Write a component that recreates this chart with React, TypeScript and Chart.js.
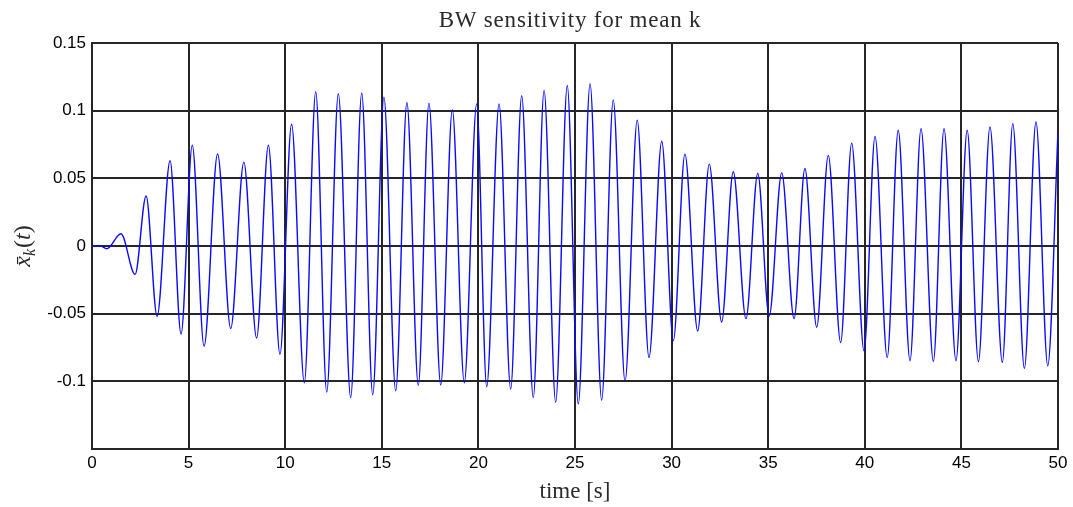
import React, { useEffect, useRef } from "react";
import { Chart, registerables } from "chart.js";

Chart.register(...registerables);

const chartTitle = "BW sensitivity for mean k";
const xAxisLabel = "time [s]";
const xTickValues = [0, 5, 10, 15, 20, 25, 30, 35, 40, 45, 50];
const yTickValues = [-0.15, -0.1, -0.05, 0, 0.05, 0.1, 0.15];
const yTickLabels = ["", "-0.1", "-0.05", "0", "0.05", "0.1", "0.15"];

// Turning points (local peaks / troughs) of the response
const extremaTimes = [
  0, 0.45, 0.76, 1.5, 2.23, 2.8, 3.37, 4.04, 4.61, 5.19, 5.8, 6.5, 7.18, 7.86, 8.52,
  9.13, 9.73, 10.33, 10.99, 11.58, 12.15, 12.75, 13.39, 13.96, 14.53, 15.11, 15.72,
  16.3, 16.89, 17.44, 18.05, 18.65, 19.27, 19.91, 20.43, 21.07, 21.67, 22.24, 22.84,
  23.4, 24.0, 24.6, 25.17, 25.78, 26.38, 26.98, 27.59, 28.22, 28.83, 29.49, 30.09,
  30.69, 31.35, 31.95, 32.59, 33.19, 33.85, 34.46, 35.05, 35.7, 36.34, 36.9, 37.51,
  38.11, 38.75, 39.32, 39.96, 40.53, 41.16, 41.73, 42.34, 42.91, 43.55, 44.1, 44.72,
  45.3, 45.88, 46.48, 47.12, 47.66, 48.26, 48.86, 49.47, 50,
];
const extremaValues = [
  0, 0, -0.002, 0.009, -0.021, 0.037, -0.052, 0.063, -0.065, 0.0745, -0.074, 0.068,
  -0.061, 0.062, -0.068, 0.0745, -0.08, 0.09, -0.101, 0.114, -0.108, 0.1125, -0.112,
  0.113, -0.11, 0.11, -0.107, 0.106, -0.103, 0.1056, -0.1027, 0.1007, -0.101, 0.105,
  -0.104, 0.105, -0.1057, 0.111, -0.112, 0.115, -0.1155, 0.1186, -0.1167, 0.12,
  -0.114, 0.108, -0.1, 0.093, -0.0824, 0.0774, -0.07, 0.0679, -0.0628, 0.0605,
  -0.0562, 0.0549, -0.0537, 0.0537, -0.0518, 0.054, -0.0537, 0.0573, -0.06, 0.067,
  -0.0713, 0.076, -0.0775, 0.081, -0.0824, 0.0855, -0.0848, 0.0867, -0.0853, 0.0867,
  -0.0848, 0.0855, -0.0855, 0.088, -0.086, 0.0904, -0.0904, 0.0916, -0.0885, 0.085,
];

export default function App() {
  const canvasRef = useRef<HTMLCanvasElement>(null);

  useEffect(() => {
    document.body.style.margin = "0";
    const canvas = canvasRef.current;
    if (!canvas) return;

    const textPlugin = {
      id: "plotText",
      afterDraw(chart: any) {
        const { ctx, chartArea } = chart;
        ctx.save();
        ctx.fillStyle = "#2a2a2a";
        ctx.textAlign = "center";
        ctx.textBaseline = "alphabetic";
        ctx.font = '23px "Liberation Serif", serif';
        try {
          (ctx as any).letterSpacing = "0.8px";
        } catch (e) {}
        ctx.fillText(chartTitle, (chartArea.left + chartArea.right) / 2 - 5, 27);
        try {
          (ctx as any).letterSpacing = "0px";
        } catch (e) {}

        // y-axis label: x̄_k(t), rotated
        ctx.translate(23, (chartArea.top + chartArea.bottom) / 2);
        ctx.rotate(-Math.PI / 2);
        ctx.textAlign = "left";
        ctx.textBaseline = "alphabetic";
        const big = 'italic 24px "Liberation Serif", serif';
        const small = 'italic 16px "Liberation Serif", serif';
        const up = '24px "Liberation Serif", serif';
        const parts = [
          { t: "x\u0304", f: big, dy: 0 },
          { t: "k", f: small, dy: 5 },
          { t: "(", f: up, dy: 0 },
          { t: "t", f: big, dy: 0 },
          { t: ")", f: up, dy: 0 },
        ];
        let total = 0;
        const widths = parts.map((p) => {
          ctx.font = p.f;
          const w = ctx.measureText(p.t).width + (p.t === "k" ? 1 : 0);
          total += w;
          return w;
        });
        let x = -total / 2;
        parts.forEach((p, i) => {
          ctx.font = p.f;
          ctx.fillText(p.t, x, 7 + p.dy);
          x += widths[i];
        });
        ctx.restore();
      },
    };

    const chart = new Chart(canvas, {
      type: "line",
      data: {
        datasets: [
          {
            data: extremaTimes.map((t, i) => ({ x: t, y: extremaValues[i] })),
            borderColor: "#0a0aff",
            borderWidth: 1.4,
            pointRadius: 0,
            cubicInterpolationMode: "monotone",
            fill: false,
          },
        ],
      },
      options: {
        animation: false,
        responsive: false,
        maintainAspectRatio: false,
        layout: { padding: { left: 0, right: 15, top: 43, bottom: 0 } },
        plugins: {
          legend: { display: false },
          title: { display: false },
          tooltip: { enabled: false },
        },
        scales: {
          x: {
            type: "linear",
            min: 0,
            max: 50,
            afterBuildTicks: (s: any) => {
              s.ticks = xTickValues.map((v) => ({ value: v }));
            },
            afterFit: (s: any) => {
              s.height = 58;
            },
            grid: { color: "#262626", lineWidth: 2, drawTicks: false },
            border: { color: "#262626", width: 2 },
            ticks: {
              font: { family: '"Liberation Sans", Arial, sans-serif', size: 17 },
              color: "#000",
              padding: 4,
              maxRotation: 0,
              autoSkip: false,
              callback: (v: any) => String(v),
            },
            title: {
              display: true,
              text: xAxisLabel,
              color: "#2a2a2a",
              font: { family: '"Liberation Serif", serif', size: 23 },
              padding: { top: 0, bottom: 1 },
            },
          },
          y: {
            type: "linear",
            min: -0.15,
            max: 0.15,
            afterBuildTicks: (s: any) => {
              s.ticks = yTickValues.map((v) => ({ value: v }));
            },
            afterFit: (s: any) => {
              s.width = 92;
            },
            grid: { color: "#262626", lineWidth: 2, drawTicks: false },
            border: { color: "#262626", width: 2 },
            ticks: {
              font: { family: '"Liberation Sans", Arial, sans-serif', size: 17 },
              color: "#000",
              padding: 6,
              autoSkip: false,
              callback: (v: any) => {
                const idx = yTickValues.findIndex((t) => Math.abs(t - Number(v)) < 1e-9);
                return idx >= 0 ? yTickLabels[idx] : "";
              },
            },
          },
        },
      },
      plugins: [textPlugin],
    } as any);

    return () => chart.destroy();
  }, []);

  return (
    <div style={{ width: 1073, height: 507, background: "#fff" }}>
      <canvas ref={canvasRef} width={1073} height={507} style={{ display: "block" }} />
    </div>
  );
}
